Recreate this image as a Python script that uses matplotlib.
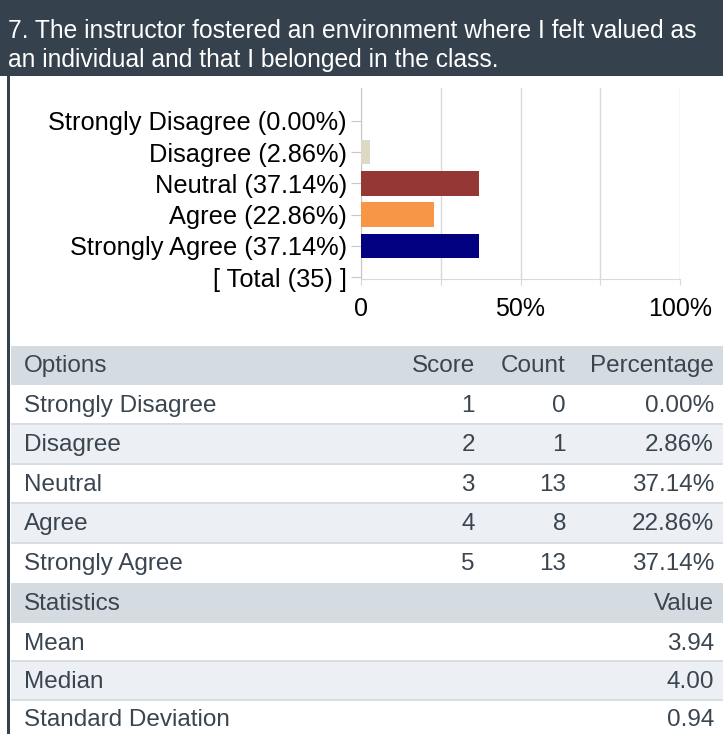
import matplotlib
matplotlib.use("Agg")
import matplotlib.pyplot as plt
from matplotlib.patches import Rectangle
from matplotlib.ticker import FixedLocator

plt.rcParams['font.family'] = ['Liberation Sans', 'DejaVu Sans']

# ---------------- data ----------------
title_lines = ["7. The instructor fostered an environment where I felt valued as",
               "an individual and that I belonged in the class."]
options = ["Strongly Disagree", "Disagree", "Neutral", "Agree", "Strongly Agree"]
scores = [1, 2, 3, 4, 5]
counts = [0, 1, 13, 8, 13]
percentages = [0.00, 2.86, 37.14, 22.86, 37.14]
total = 35
bar_colors = ["#8db3e2", "#ddd9c4", "#953735", "#f79646", "#000080"]
x_ticks = [0, 25, 50, 75, 100]
x_tick_labels = ["0", "", "50%", "", "100%"]
stat_names = ["Mean", "Median", "Standard Deviation"]
stat_values = [3.94, 4.00, 0.94]

W, H = 723, 734
fig = plt.figure(figsize=(W / 100, H / 100), dpi=100)

# ---------------- background / table layer (pixel coords) ----------------
bg = fig.add_axes([0, 0, 1, 1], zorder=0)
bg.set_xlim(0, W)
bg.set_ylim(H, 0)
bg.axis('off')

dark = "#36414e"
text_col = "#3a4550"
head_gray = "#d5dce1"
light_row = "#ecf0f4"
sep_col = "#d7dde2"

bg.add_patch(Rectangle((0, 0), W, 76, color=dark, lw=0))
bg.add_patch(Rectangle((7, 76), 2.5, H - 76, color=dark, lw=0))
bg.text(8, 31, title_lines[0], color="white", fontsize=17.7, va="center", ha="left")
bg.text(8, 60, title_lines[1], color="white", fontsize=17.7, va="center", ha="left")

fs = 17.5
tx0 = 11
# header row
bg.add_patch(Rectangle((tx0, 346), W - tx0, 39, color=head_gray, lw=0))
bg.text(24, 366, "Options", color=text_col, fontsize=fs, va="center")
bg.text(475, 366, "Score", color=text_col, fontsize=fs, va="center", ha="right")
bg.text(566, 366, "Count", color=text_col, fontsize=fs, va="center", ha="right")
bg.text(714, 366, "Percentage", color=text_col, fontsize=fs, va="center", ha="right")

row_tops = [385, 424, 464, 503, 543]
row_h = 39.5
for i, (opt, sc, ct, pc) in enumerate(zip(options, scores, counts, percentages)):
    top = row_tops[i]
    fc = light_row if i % 2 == 1 else "white"
    bg.add_patch(Rectangle((tx0, top), W - tx0, row_h, color=fc, lw=0))
    if i > 0:
        bg.add_patch(Rectangle((tx0, top - 1), W - tx0, 2, color=sep_col, lw=0))
    cy = top + row_h / 2 + 1.5
    bg.text(24, cy, opt, color=text_col, fontsize=fs, va="center")
    bg.text(475, cy, f"{sc}", color=text_col, fontsize=fs, va="center", ha="right")
    bg.text(566, cy, f"{ct}", color=text_col, fontsize=fs, va="center", ha="right")
    bg.text(714, cy, f"{pc:.2f}%", color=text_col, fontsize=fs, va="center", ha="right")

# statistics header
bg.add_patch(Rectangle((tx0, 583), W - tx0, 40, color=head_gray, lw=0))
bg.text(24, 604, "Statistics", color=text_col, fontsize=fs, va="center")
bg.text(714, 604, "Value", color=text_col, fontsize=fs, va="center", ha="right")

stat_tops = [623, 661, 700]
for i, (nm, v) in enumerate(zip(stat_names, stat_values)):
    top = stat_tops[i]
    fc = light_row if i % 2 == 1 else "white"
    bg.add_patch(Rectangle((tx0, top), W - tx0, 40, color=fc, lw=0))
    if i > 0:
        bg.add_patch(Rectangle((tx0, top - 1), W - tx0, 2, color=sep_col, lw=0))
    cy = top + 20.5
    bg.text(24, cy, nm, color=text_col, fontsize=fs, va="center")
    bg.text(714, cy, f"{v:.2f}", color=text_col, fontsize=fs, va="center", ha="right")

# ---------------- bar chart ----------------
ax_l, ax_r, ax_t, ax_b = 361, 680, 88, 279
ax = fig.add_axes([ax_l / W, (H - ax_b) / H, (ax_r - ax_l) / W, (ax_b - ax_t) / H], zorder=2)
ax.patch.set_alpha(0)

labels = [f"{o} ({p:.2f}%)" for o, p in zip(options, percentages)] + [f"[ Total ({total}) ]"]
ypos = list(range(len(labels)))
ax.barh(ypos[:len(options)], percentages, height=0.78, color=bar_colors, zorder=3)

ax.set_xlim(0, 100)
ax.set_ylim(5.06, -1.05)
ax.set_yticks(ypos)
ax.set_yticklabels(labels, fontsize=18.3, color="black")
ax.xaxis.set_major_locator(FixedLocator(x_ticks))
ax.set_xticklabels(x_tick_labels, fontsize=18, color="black")
ax.tick_params(axis='y', length=7, color="#c8c8c8", pad=3)
ax.tick_params(axis='x', length=4, color="#d9d9d9", pad=9)
ax.grid(axis='x', color="#d9d9d9", lw=1, zorder=1)
ax.set_axisbelow(True)
for s in ["top", "right"]:
    ax.spines[s].set_visible(False)
ax.spines["left"].set_color("#c8c8c8")
ax.spines["bottom"].set_color("#d9d9d9")

fig.savefig("out.png", dpi=100)
